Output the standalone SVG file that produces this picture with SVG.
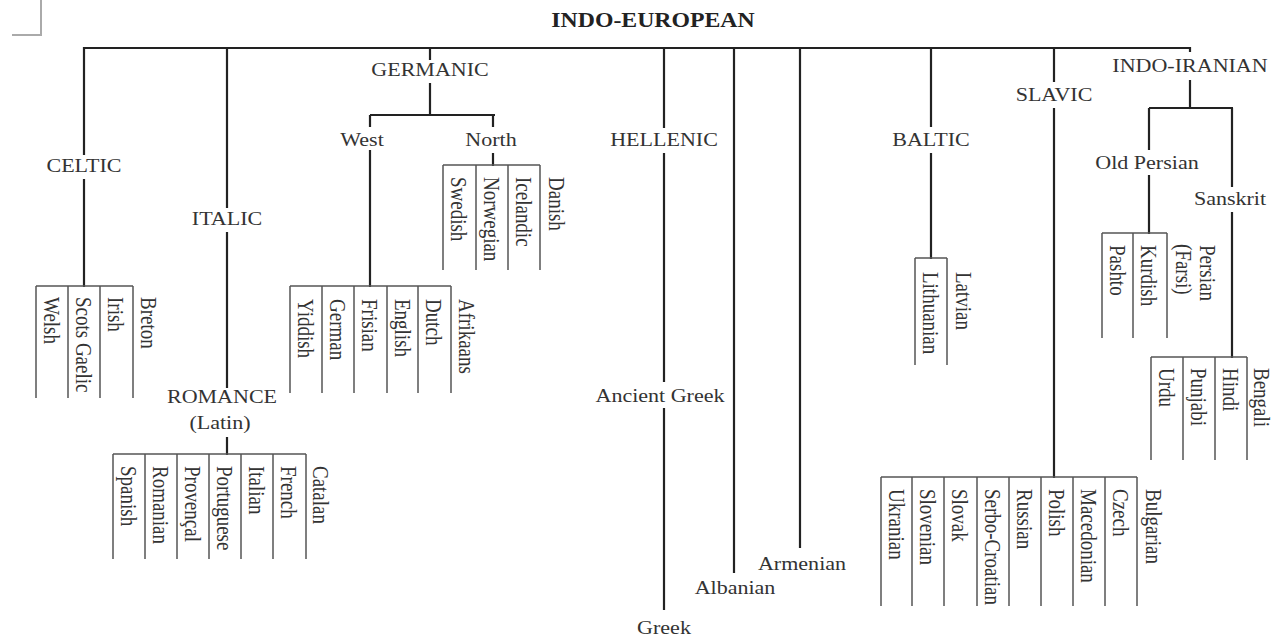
<svg xmlns="http://www.w3.org/2000/svg" width="1286" height="639" viewBox="0 0 1286 639">
<style>
.t{font-family:"Liberation Serif","Times New Roman",serif;font-size:19px;fill:#333}
.h{text-anchor:middle}
.bold{font-weight:bold;font-size:20.5px;fill:#222}
.c{stroke:#222;stroke-width:2.2;fill:none}
.b{stroke:#555;stroke-width:1.5;fill:none}
.mark{stroke:#aaa;stroke-width:2;fill:none}
</style>
<rect width="1286" height="639" fill="#fff"/>
<path class="mark" d="M12,35 H41 V0"/>
<g id="connectors">
<path class="c" d="M84,155 V48 H1190 V52"/>
<path class="c" d="M84,179 V287"/>
<path class="c" d="M227,48 V208 M227,232 V388 M227,437 V455"/>
<path class="c" d="M430,48 V60 M430,83 V115 M370,115 H495 M370,115 V127 M370,150 V287 M493,115 V127 M493,153 V166"/>
<path class="c" d="M664,48 V128 M664,153 V382 M664,408 V610"/>
<path class="c" d="M734,48 V573 M800,48 V548"/>
<path class="c" d="M931,48 V127 M931,153 V259"/>
<path class="c" d="M1054,48 V82 M1054,108 V478"/>
<path class="c" d="M1190,80 V108 M1149,108 H1233 M1149,108 V150 M1149,175 V234 M1232,108 V187 M1232,212 V358"/>
</g>
<g id="indo-european"><text class="t h bold" transform="translate(653,27) scale(1.16,1)">INDO-EUROPEAN</text></g>
<g id="celtic">
<text class="t h" transform="translate(84,172) scale(1.16,1)">CELTIC</text>
<path class="b" d="M36,286 H133 M36,286 V398 M68,286 V398 M100,286 V398 M133,286 V398"/>
<text class="t" transform="translate(44,297) rotate(90) scale(1,1.16)">Welsh</text>
<text class="t" transform="translate(76,297) rotate(90) scale(1,1.16)">Scots Gaelic</text>
<text class="t" transform="translate(108,297) rotate(90) scale(1,1.16)">Irish</text>
<text class="t" transform="translate(141,297) rotate(90) scale(1,1.16)">Breton</text>
</g>
<g id="italic">
<text class="t h" transform="translate(227,225) scale(1.16,1)">ITALIC</text>
</g>
<g id="romance">
<text class="t h" transform="translate(222,403) scale(1.16,1)">ROMANCE</text>
<text class="t h" transform="translate(220,429) scale(1.16,1)">(Latin)</text>
<path class="b" d="M113,454 H306 M113,454 V559 M145,454 V559 M177,454 V559 M209,454 V559 M241,454 V559 M273,454 V559 M306,454 V559"/>
<text class="t" transform="translate(121,466) rotate(90) scale(1,1.16)">Spanish</text>
<text class="t" transform="translate(153,466) rotate(90) scale(1,1.16)">Romanian</text>
<text class="t" transform="translate(185,466) rotate(90) scale(1,1.16)">Provençal</text>
<text class="t" transform="translate(217,466) rotate(90) scale(1,1.16)">Portuguese</text>
<text class="t" transform="translate(249,466) rotate(90) scale(1,1.16)">Italian</text>
<text class="t" transform="translate(281,466) rotate(90) scale(1,1.16)">French</text>
<text class="t" transform="translate(313,466) rotate(90) scale(1,1.16)">Catalan</text>
</g>
<g id="germanic">
<text class="t h" transform="translate(430,76) scale(1.16,1)">GERMANIC</text>
</g>
<g id="west">
<text class="t h" transform="translate(362,146) scale(1.16,1)">West</text>
<path class="b" d="M290,286 H451 M290,286 V393 M322,286 V393 M354,286 V393 M387,286 V393 M418,286 V393 M451,286 V393"/>
<text class="t" transform="translate(298,299) rotate(90) scale(1,1.16)">Yiddish</text>
<text class="t" transform="translate(330,299) rotate(90) scale(1,1.16)">German</text>
<text class="t" transform="translate(362,299) rotate(90) scale(1,1.16)">Frisian</text>
<text class="t" transform="translate(395,299) rotate(90) scale(1,1.16)">English</text>
<text class="t" transform="translate(426,299) rotate(90) scale(1,1.16)">Dutch</text>
<text class="t" transform="translate(459,299) rotate(90) scale(1,1.16)">Afrikaans</text>
</g>
<g id="north">
<text class="t h" transform="translate(491,146) scale(1.16,1)">North</text>
<path class="b" d="M443,165 H540 M443,165 V270 M476,165 V270 M508,165 V270 M540,165 V270"/>
<text class="t" transform="translate(451,177) rotate(90) scale(1,1.16)">Swedish</text>
<text class="t" transform="translate(484,177) rotate(90) scale(1,1.16)">Norwegian</text>
<text class="t" transform="translate(516,177) rotate(90) scale(1,1.16)">Icelandic</text>
<text class="t" transform="translate(549,177) rotate(90) scale(1,1.16)">Danish</text>
</g>
<g id="hellenic">
<text class="t h" transform="translate(664,146) scale(1.16,1)">HELLENIC</text>
<text class="t h" transform="translate(660,402) scale(1.16,1)">Ancient Greek</text>
<text class="t h" transform="translate(664,634) scale(1.16,1)">Greek</text>
</g>
<g id="albanian"><text class="t h" transform="translate(735,594) scale(1.16,1)">Albanian</text></g>
<g id="armenian"><text class="t h" transform="translate(802,570) scale(1.16,1)">Armenian</text></g>
<g id="baltic">
<text class="t h" transform="translate(931,146) scale(1.16,1)">BALTIC</text>
<path class="b" d="M915,258 H947 M915,258 V365 M947,258 V365"/>
<text class="t" transform="translate(923,272) rotate(90) scale(1,1.16)">Lithuanian</text>
<text class="t" transform="translate(956,272) rotate(90) scale(1,1.16)">Latvian</text>
</g>
<g id="slavic">
<text class="t h" transform="translate(1054,101) scale(1.16,1)">SLAVIC</text>
<path class="b" d="M881,477 H1137 M881,477 V606 M912,477 V606 M944,477 V606 M977,477 V606 M1009,477 V606 M1041,477 V606 M1073,477 V606 M1105,477 V606 M1137,477 V606"/>
<text class="t" transform="translate(889,489) rotate(90) scale(1,1.16)">Ukranian</text>
<text class="t" transform="translate(920,489) rotate(90) scale(1,1.16)">Slovenian</text>
<text class="t" transform="translate(952,489) rotate(90) scale(1,1.16)">Slovak</text>
<text class="t" transform="translate(985,489) rotate(90) scale(1,1.16)">Serbo-Croatian</text>
<text class="t" transform="translate(1017,489) rotate(90) scale(1,1.16)">Russian</text>
<text class="t" transform="translate(1049,489) rotate(90) scale(1,1.16)">Polish</text>
<text class="t" transform="translate(1081,489) rotate(90) scale(1,1.16)">Macedonian</text>
<text class="t" transform="translate(1113,489) rotate(90) scale(1,1.16)">Czech</text>
<text class="t" transform="translate(1146,489) rotate(90) scale(1,1.16)">Bulgarian</text>
</g>
<g id="indo-iranian">
<text class="t h" transform="translate(1190,72) scale(1.16,1)">INDO-IRANIAN</text>
</g>
<g id="old-persian">
<text class="t h" transform="translate(1147,169) scale(1.16,1)">Old Persian</text>
<path class="b" d="M1102,233 H1167 M1102,233 V338 M1133,233 V338 M1167,233 V338"/>
<text class="t" transform="translate(1110,245) rotate(90) scale(1,1.16)">Pashto</text>
<text class="t" transform="translate(1141,245) rotate(90) scale(1,1.16)">Kurdish</text>
<text class="t" transform="translate(1176,244) rotate(90) scale(1,1.16)">(Farsi)</text>
<text class="t" transform="translate(1200,245) rotate(90) scale(1,1.16)">Persian</text>
</g>
<g id="sanskrit">
<text class="t h" transform="translate(1230,205) scale(1.16,1)">Sanskrit</text>
<path class="b" d="M1151,357 H1247 M1151,357 V460 M1183,357 V460 M1215,357 V460 M1247,357 V460"/>
<text class="t" transform="translate(1159,368) rotate(90) scale(1,1.16)">Urdu</text>
<text class="t" transform="translate(1191,368) rotate(90) scale(1,1.16)">Punjabi</text>
<text class="t" transform="translate(1223,368) rotate(90) scale(1,1.16)">Hindi</text>
<text class="t" transform="translate(1254,368) rotate(90) scale(1,1.16)">Bengali</text>
</g>
</svg>
